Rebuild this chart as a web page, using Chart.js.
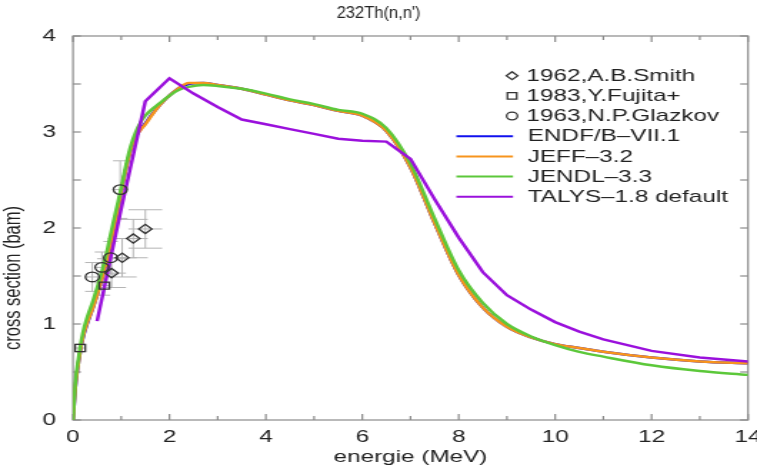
<!DOCTYPE html>
<html><head><meta charset="utf-8">
<script src="https://cdn.jsdelivr.net/npm/chart.js@4/dist/chart.umd.min.js"></script>
<style>
html,body{margin:0;padding:0;background:#fff;overflow:hidden;width:757px;height:470px;}
#wrap{position:absolute;left:0;top:0;width:530px;height:470px;transform:scaleX(1.4283);transform-origin:0 0;}
canvas{display:block;}
</style></head><body>
<div id="wrap"><canvas id="c" width="530" height="470" style="width:530px;height:470px"></canvas></div>
<script>
// ---- data (energies in MeV, cross sections in barn) ----
const chartTitle = "232Th(n,n')";
const xTitle = "energie (MeV)";
const yTitle = "cross section (bam)";
const xTickValues = [0, 2, 4, 6, 8, 10, 12, 14];
const yTickValues = [0, 1, 2, 3, 4];

const smithE    = [0.8, 1.02, 1.25, 1.5];
const smithXS   = [1.53, 1.69, 1.89, 1.99];
const smithDE   = [0.3, 0.3, 0.3, 0.35];
const smithDXS  = [0.15, 0.2, 0.2, 0.2];

const fujitaE   = [0.15, 0.65];
const fujitaXS  = [0.75, 1.40];
const fujitaDE  = [0.1, 0.12];
const fujitaDXS = [0.04, 0.1];

const glazE     = [0.4, 0.6, 0.78, 0.98];
const glazXS    = [1.49, 1.59, 1.69, 2.40];
const glazDE    = [0.15, 0.15, 0.15, 0.15];
const glazDXS   = [0.15, 0.16, 0.17, 0.3];

const evalE  = [0, 0.05, 0.1, 0.2, 0.3, 0.4, 0.5, 0.6, 0.7, 0.8, 0.9, 1.0, 1.1, 1.2, 1.3, 1.4, 1.5, 1.6, 1.8, 2.0, 2.2, 2.4, 2.7, 3.0, 3.5, 4.0, 4.5, 5.0, 5.5, 6.0, 6.5, 7.0, 7.5, 8.0, 8.5, 9.0, 9.5, 10.0, 10.5, 11, 12, 13, 14];
const endfXS = [0, 0.34, 0.55, 0.84, 1.01, 1.15, 1.3, 1.47, 1.66, 1.88, 2.12, 2.38, 2.62, 2.82, 2.95, 3.03, 3.09, 3.16, 3.28, 3.38, 3.46, 3.50, 3.51, 3.49, 3.45, 3.39, 3.33, 3.28, 3.22, 3.17, 3.01, 2.63, 2.05, 1.51, 1.17, 0.97, 0.86, 0.79, 0.75, 0.71, 0.65, 0.61, 0.59];
const jeffXS = [0, 0.35, 0.55, 0.85, 1.02, 1.15, 1.3, 1.47, 1.66, 1.88, 2.12, 2.38, 2.62, 2.82, 2.95, 3.02, 3.08, 3.15, 3.28, 3.38, 3.46, 3.51, 3.51, 3.49, 3.45, 3.39, 3.33, 3.28, 3.22, 3.17, 3.01, 2.63, 2.05, 1.51, 1.17, 0.97, 0.86, 0.79, 0.75, 0.71, 0.65, 0.61, 0.59];
const jendlXS = [0, 0.4, 0.6, 0.9, 1.08, 1.22, 1.38, 1.55, 1.75, 1.98, 2.2, 2.42, 2.66, 2.86, 3.0, 3.1, 3.17, 3.22, 3.3, 3.38, 3.44, 3.47, 3.49, 3.48, 3.45, 3.40, 3.34, 3.29, 3.23, 3.19, 3.04, 2.67, 2.1, 1.56, 1.22, 1.0, 0.87, 0.78, 0.71, 0.66, 0.57, 0.51, 0.47];

const talysE  = [0.5, 1.0, 1.5, 2.0, 2.5, 3.0, 3.5, 4.0, 4.5, 5.0, 5.5, 6.0, 6.5, 7.0, 7.5, 8.0, 8.5, 9.0, 9.5, 10, 10.5, 11, 12, 13, 14];
const talysXS = [1.03, 2.2, 3.32, 3.56, 3.4, 3.26, 3.13, 3.08, 3.03, 2.98, 2.93, 2.91, 2.90, 2.72, 2.3, 1.9, 1.54, 1.3, 1.15, 1.02, 0.92, 0.84, 0.72, 0.65, 0.61];

const FONT = "'Liberation Sans', Arial, Helvetica, sans-serif";
const STRETCH = 1.4283;
const pts = (xs, ys) => xs.map((v, i) => ({x: v, y: ys[i]}));

const expSets = [
  {label: '1962,A.B.Smith', style: 'rectRot', r: 4.6, lr: 4, e: smithE, v: smithXS, de: smithDE, dv: smithDXS},
  {label: '1983,Y.Fujita+', style: 'rect', r: 5, lr: 4.6, e: fujitaE, v: fujitaXS, de: fujitaDE, dv: fujitaDXS},
  {label: '1963,N.P.Glazkov', style: 'circle', r: 4.8, lr: 3.8, e: glazE, v: glazXS, de: glazDE, dv: glazDXS}
];
const curveSets = [
  {label: 'ENDF/B\u2013VII.1', color: '#1010ee', e: evalE, v: endfXS, order: 4, mono: true},
  {label: 'JEFF\u20133.2', color: '#f7941d', e: evalE, v: jeffXS, order: 3, mono: true},
  {label: 'JENDL\u20133.3', color: '#5cc83a', e: evalE, v: jendlXS, order: 2, mono: true},
  {label: 'TALYS\u20131.8 default', color: '#9a10dc', e: talysE, v: talysXS, order: 1, mono: false}
];

const datasets = [];
expSets.forEach(s => datasets.push({
  label: s.label, data: pts(s.e, s.v), showLine: false,
  pointStyle: s.style, pointRadius: s.r, pointBorderWidth: 1.3,
  pointBorderColor: '#333', pointBackgroundColor: 'rgba(0,0,0,0)', order: 0
}));
curveSets.forEach(s => datasets.push({
  label: s.label, data: pts(s.e, s.v), showLine: true, borderColor: s.color,
  borderWidth: 2.5, pointRadius: 0, fill: false, order: s.order,
  cubicInterpolationMode: s.mono ? 'monotone' : 'default', tension: 0
}));

const framePlugin = {
  id: 'frameAndErrors',
  beforeDatasetsDraw(chart) {
    const {ctx, chartArea: a, scales: {x, y}} = chart;
    ctx.save();
    ctx.strokeStyle = '#b4b4b4'; ctx.lineWidth = 1;
    const seg = (x1, y1, x2, y2) => { ctx.beginPath(); ctx.moveTo(x1, y1); ctx.lineTo(x2, y2); ctx.stroke(); };
    expSets.forEach(s => {
      s.e.forEach((e, i) => {
        const v = s.v[i], de = s.de[i], dv = s.dv[i];
        const px = x.getPixelForValue(e), py = y.getPixelForValue(v);
        const xl = x.getPixelForValue(Math.max(0, e - de)), xr = x.getPixelForValue(e + de);
        const yt = y.getPixelForValue(v + dv), yb = y.getPixelForValue(v - dv);
        seg(px, yt, px, yb);
        seg(xl, py, xr, py);
        seg(xl, yt, xr, yt);
        seg(xl, yb, xr, yb);
      });
    });
    ctx.strokeStyle = '#8a8a8a'; ctx.lineWidth = 1.2;
    ctx.strokeRect(a.left, a.top, a.right - a.left, a.bottom - a.top);
    for (let v = 0; v <= 14; v += 1) {
      const px = x.getPixelForValue(v);
      const L = (v % 2 === 0) ? 6 : 4;
      seg(px, a.bottom, px, a.bottom - L);
      seg(px, a.top, px, a.top + L);
    }
    for (let v = 0; v <= 4; v += 0.5) {
      const py = y.getPixelForValue(v);
      const L = 5.5;
      seg(a.left, py, a.left + L, py);
      seg(a.right, py, a.right - L, py);
    }
    ctx.restore();
  },
  afterDraw(chart) {
    const {ctx} = chart;
    // chart title (not stretched)
    ctx.save();
    ctx.translate(chart.width / 2, 13);
    ctx.scale(1 / STRETCH, 1);
    ctx.font = '16.5px ' + FONT;
    ctx.fillStyle = '#222';
    ctx.textAlign = 'center'; ctx.textBaseline = 'middle';
    ctx.fillText(chartTitle, 0, 0);
    ctx.restore();
    // y axis title
    ctx.save();
    ctx.translate(9.5, 278);
    ctx.rotate(-Math.PI / 2);
    ctx.font = '16.5px ' + FONT;
    ctx.fillStyle = '#222';
    ctx.textAlign = 'center'; ctx.textBaseline = 'middle';
    ctx.fillText(yTitle, 0, 0);
    ctx.restore();
    // legend
    ctx.save();
    ctx.font = '17px ' + FONT;
    ctx.textAlign = 'left'; ctx.textBaseline = 'middle';
    const rows = [75.7, 95.8, 116, 136.2, 156.4, 176.6, 196.8];
    expSets.forEach((s, i) => {
      ctx.strokeStyle = '#333'; ctx.fillStyle = 'rgba(0,0,0,0)'; ctx.lineWidth = 1.3;
      Chart.helpers.drawPoint(ctx, {pointStyle: s.style, radius: s.lr, rotation: 0, borderWidth: 1.3}, 358.5, rows[i]);
      ctx.fillStyle = '#222';
      ctx.fillText(s.label, 368.6, rows[i] + 0.5);
    });
    curveSets.forEach((s, j) => {
      const ry = rows[3 + j];
      ctx.strokeStyle = s.color; ctx.lineWidth = 2;
      ctx.beginPath(); ctx.moveTo(319.5, ry); ctx.lineTo(359.2, ry); ctx.stroke();
      ctx.fillStyle = '#222';
      ctx.fillText(s.label, 369.5, ry + 0.5);
    });
    ctx.restore();
  }
};

new Chart(document.getElementById('c'), {
  type: 'scatter',
  data: {datasets},
  options: {
    responsive: false, animation: false, devicePixelRatio: 1,
    layout: {padding: {top: 36, left: 0, right: 0, bottom: 0}},
    plugins: {
      legend: {display: false}, tooltip: {enabled: false},
      title: {display: false}
    },
    scales: {
      x: {
        type: 'linear', min: 0, max: 14,
        afterBuildTicks: s => { s.ticks = xTickValues.map(v => ({value: v})); },
        afterFit: s => { s.height = 50; s.paddingLeft = 0; s.paddingRight = 0; },
        grid: {display: false, drawTicks: false}, border: {display: false},
        ticks: {color: '#222', padding: 7, font: {family: FONT, size: 17}, maxRotation: 0, autoSkip: false},
        title: {display: true, text: xTitle, color: '#222', font: {family: FONT, size: 17}, padding: {top: 0, bottom: 2}}
      },
      y: {
        type: 'linear', min: 0, max: 4,
        afterBuildTicks: s => { s.ticks = yTickValues.map(v => ({value: v})); },
        afterFit: s => { s.width = 51.1; s.paddingTop = 0; s.paddingBottom = 0; },
        grid: {display: false, drawTicks: false}, border: {display: false},
        ticks: {color: '#222', padding: 12, font: {family: FONT, size: 17}},
        title: {display: false}
      }
    }
  },
  plugins: [framePlugin]
});
</script>
</body></html>
